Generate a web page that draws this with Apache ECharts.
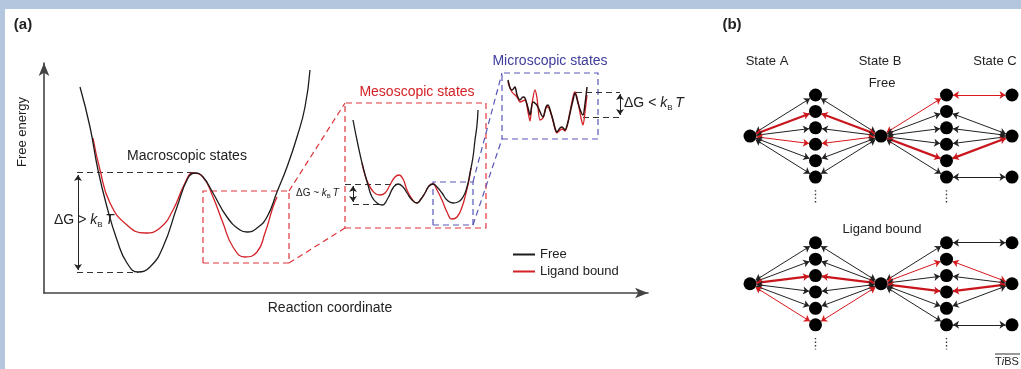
<!DOCTYPE html>
<html>
<head>
<meta charset="utf-8">
<script src="https://cdn.jsdelivr.net/npm/echarts@6/dist/echarts.min.js"></script>
<style>
  html, body { margin: 0; padding: 0; background: #fff; }
  #chart { width: 1021px; height: 369px; }
</style>
</head>
<body>
<div id="chart"></div>
<script>
// ---- panel (a): free energy landscapes (x = reaction coordinate, y = free energy, arbitrary units)
const macroFree = [[36,206],[46,166],[54,123],[63,86],[73,53],[83,30],[94,21],[106,26],[119,46],[133,86],[144,115],[151,120],[159,116],[169,100],[183,76],[196,63],[203,61],[213,65],[223,76],[233,101],[243,126],[253,156],[261,186],[266,223]];
const macroBound = [[49,155],[56,123],[66,90],[83,68],[101,60],[116,65],[129,83],[141,110],[149,120],[159,116],[169,96],[179,70],[189,46],[201,36],[213,41],[221,60],[229,86],[233,96]];
const mesoFree = [[309,173],[314,148],[319,126],[324,108],[328,96],[333,90],[338,88],[344,95],[349,105],[354,109],[359,106],[363,100],[368,93],[373,90],[377,94],[381,100],[385,107],[389,109],[393,106],[398,100],[403,93],[409,90],[414,91],[419,96],[423,106],[426,120],[429,136],[431,153],[433,168],[434,183]];
const mesoBound = [[318,130],[321,118],[324,110],[328,103],[332,99],[336,98],[341,100],[346,108],[351,116],[355,118],[359,114],[363,103],[368,94],[373,90],[377,94],[381,100],[385,107],[389,109],[393,103],[398,93],[403,81],[408,74],[413,76],[418,86],[422,100],[425,113],[427,125]];
const microFree = [[464,213],[466,205],[468,203],[471,206],[473,198],[476,193],[479,196],[481,195],[484,185],[486,178],[489,191],[492,189],[494,186],[497,179],[499,176],[502,186],[504,188],[507,180],[509,173],[511,165],[513,161],[516,165],[518,166],[521,163],[524,171],[526,180],[529,193],[531,200],[534,190],[537,181],[539,178],[541,189],[543,206]];
const microBound = [[464,211],[468,201],[473,196],[476,191],[481,193],[484,181],[486,172],[488,189],[491,203],[493,195],[496,173],[499,175],[502,185],[504,186],[507,179],[509,172],[513,160],[518,164],[521,162],[526,181],[529,196],[531,201],[534,191],[537,175],[539,168],[541,181],[543,198]];

// zoom boxes [x0, y0, x1, y1] and their connectors
const macroBox = [159, 30, 245, 102];
const mesoBox = [301, 65, 442, 190];
const mesoZoomBox = [389, 68, 429, 111];
const microBox = [458, 154, 554, 220];
const redLinks = [[[245,102],[301,190]], [[245,30],[301,65]]];
const blueLinks = [[[429,111],[458,220]], [[429,68],[458,154]]];

// energy-gap guides and double arrows
const gapLevels = [[[33,121],[151,121]], [[33,21],[94,21]], [[301,109],[354,109]], [[309,89],[338,89]], [[532,201],[576,201]], [[539,176],[576,176]]];
const gapArrows = [[[34,118],[34,23]], [[309,107],[309,91]], [[576,199],[576,178]]];

// ---- panel (b): state networks
const colLevels = [2.5, 1.5, 0.5, -0.5, -1.5, -2.5];
const cLevels = [2.5, 0, -2.5];
const cTarget = [0, 1, 1, 1, 1, 2];
const networkShift = [0, -9];          // free, ligand bound
// k = black, r = thin red, R = thick red
const freeAto1  = ['k','R','k','r','k','k'];
const free1toB  = ['k','R','k','r','k','k'];
const freeBto2  = ['r','k','k','k','R','k'];
const free2toC  = ['r','k','k','k','R','k'];
const boundAto1 = ['k','k','R','k','k','r'];
const bound1toB = ['k','k','R','k','k','r'];
const boundBto2 = ['k','r','k','R','k','k'];
const bound2toC = ['k','r','k','R','k','k'];

const FONT = '"Liberation Sans", Arial, sans-serif';
const BLACK = '#1c1c1c', RED = '#d42027', BLUE = '#3d3d9c';

const edgeStyle = {
  k: { color: '#222', width: 1, opacity: 1 },
  r: { color: '#d7191c', width: 1, opacity: 1 },
  R: { color: '#c9161d', width: 2.2, opacity: 1 }
};

function buildNetwork(tag, shift, aTo1, oneToB, bTo2, twoToC) {
  const nodes = [], links = [];
  const add = (name, x, y) => nodes.push({ name: tag + name, value: [x, y + shift] });
  add('A', 0, 0);
  add('B', 2, 0);
  colLevels.forEach((y, i) => { add('L' + i, 1, y); add('R' + i, 3, y); });
  cLevels.forEach((y, i) => add('C' + i, 4, y));
  const link = (s, t, k) => links.push({ source: tag + s, target: tag + t, lineStyle: edgeStyle[k] });
  colLevels.forEach((y, i) => {
    link('A', 'L' + i, aTo1[i]);
    link('L' + i, 'B', oneToB[i]);
    link('B', 'R' + i, bTo2[i]);
    link('R' + i, 'C' + cTarget[i], twoToC[i]);
  });
  return { nodes, links };
}
const freeNet = buildNetwork('f', networkShift[0], freeAto1, free1toB, freeBto2, free2toC);
const boundNet = buildNetwork('b', networkShift[1], boundAto1, bound1toB, boundBto2, bound2toC);
const moreDots = [[[1,-3.3],[1,-4.1]], [[3,-3.3],[3,-4.1]], [[1,-12.3],[1,-13.0]], [[3,-12.3],[3,-13.0]]];

const boxPath = b => [[b[0],b[1]],[b[2],b[1]],[b[2],b[3]],[b[0],b[3]],[b[0],b[1]]];

const curve = (name, data, color, z) => ({
  name, type: 'line', data, smooth: true, showSymbol: false, symbol: 'none',
  color, lineStyle: { color, width: 1.3 }, z, silent: true, animation: false
});
const dashed = (data, color, z, polyline) => ({
  type: 'lines', coordinateSystem: 'cartesian2d', polyline: !!polyline, z, silent: true,
  data: data.map(c => ({ coords: c })),
  lineStyle: { color, width: 1.2, type: [6, 4], opacity: 1 }, animation: false
});

const txt = (x, y, text, extra) => ({
  type: 'text', x, y,
  style: Object.assign({ text, font: '14px ' + FONT, fill: '#222', align: 'center', verticalAlign: 'middle',
    textAlign: 'center', textVerticalAlign: 'middle' }, extra || {})
});
const deltaG = (x, y, rel, size) => txt(x, y, '{n|ΔG ' + rel + ' }{i|k}{s|B}{i|\u2009T}', {
  align: 'left', textAlign: 'left',
  rich: {
    n: { fontSize: size, fontFamily: FONT, color: '#222', verticalAlign: 'top', lineHeight: size + 1 },
    i: { fontSize: size, fontFamily: FONT, fontStyle: 'italic', color: '#222', verticalAlign: 'top', lineHeight: size + 1 },
    s: { fontSize: Math.round(size * 0.6), fontFamily: FONT, color: '#222', verticalAlign: 'bottom', lineHeight: Math.round(size * 0.6) }
  }
});

const chart = echarts.init(document.getElementById('chart'), null, { renderer: 'canvas' });
chart.setOption({
  animation: false,
  backgroundColor: '#fff',
  grid: [
    { left: 44, top: 63, width: 604, height: 230 },
    { left: 750, top: 54, width: 262, height: 295.4 }
  ],
  xAxis: [
    { gridIndex: 0, type: 'value', min: 0, max: 604,
      axisLine: { show: true, onZero: false, symbol: ['none', 'arrow'], symbolSize: [8, 13], lineStyle: { color: '#444', width: 1.6 } },
      axisTick: { show: false }, axisLabel: { show: false }, splitLine: { show: false } },
    { gridIndex: 1, type: 'value', min: 0, max: 4, show: false }
  ],
  yAxis: [
    { gridIndex: 0, type: 'value', min: 0, max: 230,
      axisLine: { show: true, onZero: false, symbol: ['none', 'arrow'], symbolSize: [8, 13], lineStyle: { color: '#444', width: 1.6 } },
      axisTick: { show: false }, axisLabel: { show: false }, splitLine: { show: false } },
    { gridIndex: 1, type: 'value', min: -13, max: 5, show: false }
  ],
  legend: {
    data: ['Free', 'Ligand bound'], orient: 'vertical', left: 508, top: 243,
    icon: 'rect', itemWidth: 22, itemHeight: 2, itemGap: 4, selectedMode: false,
    textStyle: { fontSize: 13, color: '#222', fontFamily: FONT }
  },
  series: [
    dashed([boxPath(macroBox), boxPath(mesoBox)], '#e0343c', 2, true),
    dashed(redLinks, '#e0343c', 2),
    dashed([boxPath(mesoZoomBox), boxPath(microBox)], '#5656b8', 2, true),
    dashed(blueLinks, '#5656b8', 2),
    dashed(gapLevels, '#333', 2),
    {
      type: 'lines', coordinateSystem: 'cartesian2d', z: 3, silent: true,
      data: gapArrows.map(c => ({ coords: c })),
      symbol: ['arrow', 'arrow'], symbolSize: 6,
      lineStyle: { color: '#222', width: 1, opacity: 1 }
    },
    curve('Ligand bound', macroBound, RED, 4),
    curve('Free', macroFree, BLACK, 5),
    curve('Ligand bound', mesoBound, RED, 4),
    curve('Free', mesoFree, BLACK, 5),
    Object.assign(curve('Ligand bound', microBound, RED, 4), { smooth: 0.3 }),
    Object.assign(curve('Free', microFree, BLACK, 5), { smooth: 0.3, lineStyle: { color: '#2a1010', width: 1.5 } }),
    {
      type: 'graph', coordinateSystem: 'cartesian2d', xAxisIndex: 1, yAxisIndex: 1,
      layout: 'none', silent: true, z: 3,
      symbol: 'circle', symbolSize: 13, itemStyle: { color: '#000' },
      edgeSymbol: ['arrow', 'arrow'], edgeSymbolSize: 6,
      lineStyle: { opacity: 1, curveness: 0 },
      label: { show: false },
      data: freeNet.nodes.concat(boundNet.nodes),
      links: freeNet.links.concat(boundNet.links)
    },
    {
      type: 'lines', coordinateSystem: 'cartesian2d', xAxisIndex: 1, yAxisIndex: 1, silent: true,
      data: moreDots.map(c => ({ coords: c })),
      lineStyle: { color: '#333', width: 1.4, type: [1.4, 2.2], opacity: 1 }
    }
  ],
  graphic: [
    { type: 'rect', shape: { x: 0, y: 0, width: 1021, height: 9 }, style: { fill: '#b3c6de' }, silent: true },
    { type: 'rect', shape: { x: 0, y: 0, width: 5, height: 369 }, style: { fill: '#b3c6de' }, silent: true },
    txt(23, 25, '(a)', { font: 'bold 15px ' + FONT }),
    txt(732, 25, '(b)', { font: 'bold 15px ' + FONT }),
    Object.assign(txt(22, 132, 'Free energy', { font: '13px ' + FONT }), { rotation: Math.PI / 2 }),
    txt(330, 308, 'Reaction coordinate'),
    txt(187, 156, 'Macroscopic states'),
    txt(417, 92, 'Mesoscopic states', { fill: RED }),
    txt(550, 61, 'Microscopic states', { fill: BLUE }),
    deltaG(54, 221, '>', 14),
    deltaG(296, 194, '~', 10),
    deltaG(624, 104, '<', 14),
    txt(767, 61, 'State A', { font: '13px ' + FONT }),
    txt(880, 61, 'State B', { font: '13px ' + FONT }),
    txt(995, 61, 'State C', { font: '13px ' + FONT }),
    txt(882, 83, 'Free', { font: '13px ' + FONT }),
    txt(882, 229, 'Ligand bound', { font: '13px ' + FONT }),
    txt(1007, 362, '{n|T}{i|i}{n|BS}', { rich: {
      n: { fontSize: 11, fontFamily: FONT, color: '#222' },
      i: { fontSize: 11, fontFamily: FONT, fontStyle: 'italic', color: '#222' } } }),
    { type: 'line', shape: { x1: 995, y1: 354, x2: 1020, y2: 354 }, style: { stroke: '#333', lineWidth: 1 }, silent: true }
  ]
});
</script>
</body>
</html>
